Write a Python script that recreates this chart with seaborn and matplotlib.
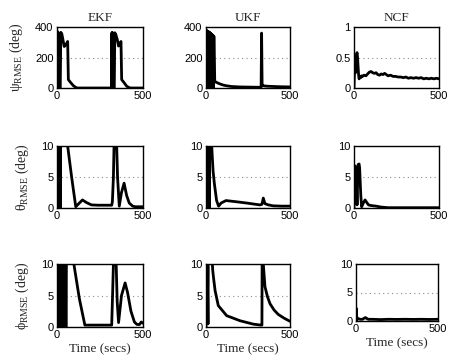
import numpy as np
import pandas as pd
import seaborn as sns
import matplotlib.pyplot as plt

# RMSE time histories (time in secs, error in deg)
ekf_psi_t = [0, 1, 2, 3, 4, 5, 6, 7, 8, 9, 10, 12, 19, 22, 28, 34, 42, 52, 62, 66, 80, 95, 110, 120, 200,
             318, 319, 320, 321, 322, 323, 324, 325, 326, 333, 336, 342, 350, 358, 365, 372, 376, 390, 405, 420, 430, 500]
ekf_psi_v = [0, 360, 0, 370, 0, 365, 0, 360, 5, 355, 360, 0, 0, 365, 355, 320, 272, 285, 305, 55, 35, 15, 3, 0, 0,
             0, 360, 0, 365, 0, 360, 0, 355, 0, 0, 362, 350, 320, 275, 285, 305, 55, 35, 12, 2, 0, 0]

ukf_psi_t = [0, 2, 4, 6, 8, 10, 12, 14, 16, 18, 20, 22, 24, 26, 28, 30, 32, 34, 36, 38, 40, 42, 44, 46, 48,
             52, 60, 80, 100, 120, 150, 200, 250, 300, 328, 331, 334, 340, 360, 400, 450, 500]
ukf_psi_v = [0, 378, 0, 375, 0, 372, 0, 370, 0, 367, 0, 364, 0, 360, 0, 356, 0, 352, 0, 348, 0, 344, 0, 340, 335,
             45, 38, 28, 20, 15, 10, 7, 6, 5, 5, 360, 20, 15, 12, 10, 8, 7]

ncf_psi_t = [0, 3, 6, 9, 12, 15, 18, 21, 24, 27, 30, 35, 40, 45, 50,
             60, 70, 80, 90, 100, 110, 120, 130, 140, 150, 160, 170, 180, 190, 200,
             215, 230, 245, 260, 275, 290, 305, 320, 335, 350, 365, 380, 395, 410, 425, 440, 455, 470, 485, 500]
ncf_psi_v = [0, 0.30, 0.35, 0.25, 0.45, 0.55, 0.58, 0.50, 0.35, 0.22, 0.15, 0.18, 0.17, 0.20, 0.19,
             0.21, 0.20, 0.23, 0.26, 0.27, 0.25, 0.24, 0.25, 0.22, 0.21, 0.23, 0.22, 0.24, 0.22, 0.20,
             0.21, 0.19, 0.19, 0.18, 0.18, 0.17, 0.18, 0.16, 0.17, 0.16, 0.17, 0.16, 0.17, 0.15, 0.16, 0.15, 0.16, 0.15, 0.16, 0.15]

ekf_theta_t = [0, 2, 4, 6, 8, 10, 12, 14, 16, 18, 20, 22, 40, 55, 62, 85, 109, 130, 148, 170, 200, 240,
               318, 322, 328, 333, 345, 352, 362, 375, 390, 405, 420, 440, 455, 500]
ekf_theta_v = [0, 30, 0, 30, 0, 30, 0, 30, 0, 30, 0, 30, 20, 12, 10, 5, 0.2, 0.8, 1.3, 0.9, 0.5, 0.45,
               0.45, 1, 5, 12, 12, 5, 0.3, 2.5, 4, 2, 0.8, 0.3, 0.2, 0.2]

ukf_theta_t = [0, 2, 4, 6, 8, 10, 12, 15, 18, 20, 24, 34, 42, 50, 63, 75, 90, 119, 150, 183, 242,
               321, 333, 341, 351, 371, 400, 450, 500]
ukf_theta_v = [0, 7, 2, 10, 0, 12, 3, 30, 5, 0, 20, 10, 6, 3.9, 1.2, 0.3, 0.8, 1.2, 1.1, 1.0, 0.8,
               0.5, 0.6, 1.6, 0.7, 0.5, 0.35, 0.3, 0.3]

ncf_theta_t = [0, 2, 4, 6, 8, 10, 12, 18, 24, 30, 33, 40, 45, 55, 65, 75, 85, 100, 130, 160, 200, 500]
ncf_theta_v = [0, 6.5, 1, 6.8, 1, 6.5, 6.2, 0.5, 7.0, 7.1, 6.5, 2, 0.2, 0.8, 1.3, 0.9, 0.5, 0.4, 0.3, 0.15, 0.05, 0.05]

ekf_phi_t = [0, 3, 6, 9, 12, 15, 18, 22, 26, 30, 35, 45, 52, 60, 80, 98, 130, 162, 200,
             318, 323, 330, 336, 342, 350, 358, 375, 396, 410, 430, 450, 465, 480, 490, 500]
ekf_phi_v = [0, 30, 0, 30, 0, 30, 0, 30, 0, 30, 0, 30, 0, 30, 20, 10, 4.5, 0.3, 0.3,
             0.3, 5, 12, 25, 12, 4, 0.7, 5, 7, 5.5, 2.5, 0.8, 0.4, 0.4, 0.8, 0.6]

ukf_phi_t = [0, 3, 6, 9, 12, 16, 30, 40, 44, 54, 73, 123, 202, 282, 327, 333, 336, 341, 351, 366, 381, 405, 430, 465, 500]
ukf_phi_v = [0, 7.5, 1, 7.2, 0.5, 25, 14, 9, 8, 5.8, 3.4, 1.8, 1.0, 0.45, 0.3, 0.3, 30, 10, 6.4, 4.8, 3.7, 2.7, 2.0, 1.4, 0.9]

ncf_phi_t = [0, 2, 4, 8, 15, 25, 40, 50, 58, 65, 75, 100, 150, 200, 250, 300, 350, 400, 450, 500]
ncf_phi_v = [0, 2.2, 0.8, 0.3, 0.4, 0.3, 0.3, 0.5, 0.6, 0.45, 0.3, 0.3, 0.25, 0.3, 0.28, 0.3, 0.28, 0.3, 0.27, 0.3]

filters = ['EKF', 'UKF', 'NCF']
row_labels = ['ψ$_{\\mathrm{RMSE}}$ (deg)', 'θ$_{\\mathrm{RMSE}}$ (deg)', 'ϕ$_{\\mathrm{RMSE}}$ (deg)']
ncf_psi_ticks = [0, 0.5, 1]
deg_ticks = [0, 5, 10]
psi_ticks = [0, 200, 400]

series = [
    [(ekf_psi_t, ekf_psi_v), (ukf_psi_t, ukf_psi_v), (ncf_psi_t, ncf_psi_v)],
    [(ekf_theta_t, ekf_theta_v), (ukf_theta_t, ukf_theta_v), (ncf_theta_t, ncf_theta_v)],
    [(ekf_phi_t, ekf_phi_v), (ukf_phi_t, ukf_phi_v), (ncf_phi_t, ncf_phi_v)],
]
yticks = [[psi_ticks, psi_ticks, ncf_psi_ticks], [deg_ticks] * 3, [deg_ticks] * 3]

sns.set_style('white')
plt.rcParams['font.family'] = 'Liberation Sans'
plt.rcParams['mathtext.fontset'] = 'custom'
plt.rcParams['mathtext.rm'] = 'Liberation Serif'

W, H = 450, 364
fig = plt.figure(figsize=(W / 100, H / 100), dpi=100)

# axes boxes in pixels: left, top, right, bottom
col_x = [(57, 143), (206, 290), (354, 439)]
row_y = [(27, 88), (146, 208), (264, 327)]

for r in range(3):
    for c in range(3):
        x0, x1 = col_x[c]
        y0, y1 = row_y[r]
        if r == 2 and c == 2:
            x0, x1, y0, y1 = 356, 438, 264, 321
        ax = fig.add_axes([x0 / W, 1 - y1 / H, (x1 - x0) / W, (y1 - y0) / H])
        t, v = series[r][c]
        df = pd.DataFrame({'t': t, 'v': v})
        sns.lineplot(data=df, x='t', y='v', ax=ax, color='black', lw=2.0,
                     estimator=None, sort=False)
        ticks = yticks[r][c]
        ax.set_xlim(0, 500)
        ax.set_ylim(ticks[0], ticks[-1])
        ax.set_xticks([0, 500])
        ax.set_yticks(ticks)
        ax.set_yticklabels([f'{k:g}' for k in ticks])
        ax.yaxis.grid(True, linestyle=(0, (1, 3)), color='0.55', lw=0.8)
        ax.xaxis.grid(False)
        ax.set_axisbelow(True)
        ax.tick_params(direction='in', length=2, labelsize=8, pad=2.5, colors='black')
        for s in ax.spines.values():
            s.set_color('black')
            s.set_linewidth(1.0)
        ax.set_xlabel('')
        ax.set_ylabel('')
        if r == 0:
            ax.set_title(filters[c], fontsize=9.5, family='Liberation Serif', pad=4)
        if r == 2:
            ax.set_xlabel('Time (secs)', fontsize=9.5, family='Liberation Serif', labelpad=2)
        if c == 0:
            ax.set_ylabel(row_labels[r], fontsize=10, family='Liberation Serif', labelpad=7)

fig.savefig('out.png', dpi=100)
